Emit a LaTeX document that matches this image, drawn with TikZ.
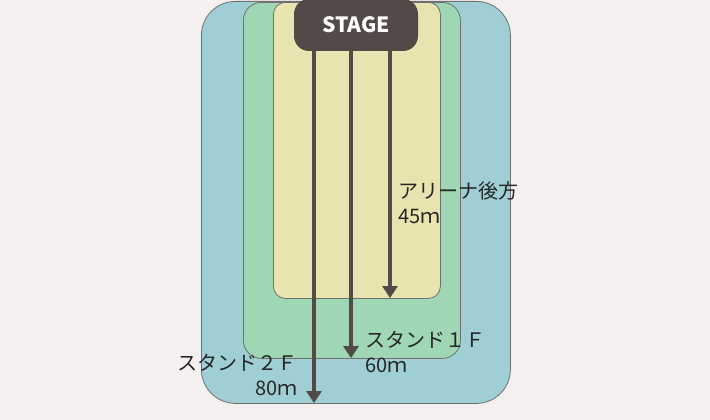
\documentclass[tikz,border=0pt]{standalone}
\usepackage{fontspec}
\setmainfont{Noto Sans CJK JP}
\usetikzlibrary{positioning, calc, arrows.meta}
\definecolor{bgc}{HTML}{F4F0EF}
\definecolor{standtwoc}{HTML}{9FCFD5}
\definecolor{standonec}{HTML}{9FD6B3}
\definecolor{arenac}{HTML}{E8E4B0}
\definecolor{stagec}{HTML}{524A47}
\definecolor{edgec}{HTML}{707070}
\tikzstyle{Zone} = [draw=edgec, line width=0.8pt, inner sep=0pt, anchor=north west]
\tikzstyle{Arrow} = [
line width=3.5pt, draw=stagec,
-{Triangle[width=15pt, length=12pt]}]
\tikzstyle{Label} = [inner sep=0pt, font=\fontsize{20}{25}\selectfont, text=black!85]

\begin{document}
\begin{tikzpicture}[x=1pt, y=-1pt]
    \useasboundingbox [fill=bgc] (0,0) rectangle (710,420);
    \node [Zone, fill=standtwoc, rounded corners=34pt, minimum width=309pt, minimum height=402pt] (stand2) at (201,1) {};
    \node [Zone, fill=standonec, rounded corners=18pt, minimum width=217pt, minimum height=356pt] (stand1) at (243,2) {};
    \node [Zone, fill=arenac, rounded corners=12pt, minimum width=167pt, minimum height=296pt] (arena) at (273,2) {};
    \node [fill=stagec, rounded corners=15pt, minimum width=124pt, minimum height=52pt, text=white, font=\fontsize{21}{25}\selectfont\bfseries] (stage) at (356,25) {STAGE};
    \coordinate (end2) at (314,403);
    \coordinate (end1) at (351,358);
    \coordinate (end0) at (390,298);
    \draw[Arrow] (stage.south -| end2) -- (end2);
    \draw[Arrow] (stage.south -| end1) -- (end1);
    \draw[Arrow] (stage.south -| end0) -- (end0);
    \node [Label, anchor=north west, align=left] (arenatxt) at (398,181) {アリーナ後方\\45ｍ};
    \node [Label, anchor=north west, align=left] (stand1txt) at (365,331) {スタンド１Ｆ\\60ｍ};
    \node [Label, anchor=north east, align=right] (stand2txt) at (298,354) {スタンド２Ｆ\\80ｍ};
\end{tikzpicture}
\end{document}
